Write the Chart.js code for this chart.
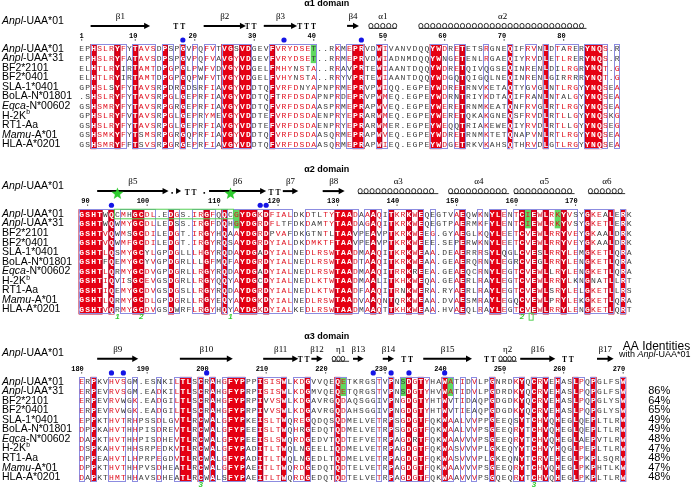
<!DOCTYPE html>
<html>
<head>
<meta charset="utf-8">
<script src="https://cdn.jsdelivr.net/npm/chart.js@4.4.0/dist/chart.umd.min.js"></script>
<style>
  html, body { margin: 0; padding: 0; background: #fff; }
  canvas { display: block; }
</style>
</head>
<body>
<canvas id="chart" width="696" height="489"></canvas>
<script>
const rowNames = ['Anpl-UAA*01', 'Anpl-UAA*31', 'BF2*2101', 'BF2*0401', 'SLA-1*0401', 'BoLA-N*01801',
  'Eqca-N*00602', 'H-2K^b', 'RT1-Aa', 'Mamu-A*01', 'HLA-A*0201'];
const rowItalic = [true, true, false, false, false, false, true, false, false, true, false];

const block1Seqs = [
  'EPHSLRYFYTAVSDPSPGVPQFVTVGSVDGEVFVRYDSET..RKMEPRVDWIVANVDQQYWDRETETSRGNEQIFRVNLDTARERYNQS.R',
  'EPHSLRYFATAVSDPSPGVPQFVAVGYVDGEVFVRYDSET..RRMEPRVDWIADNMDQQYWNGETENLRGAEQIYRVDLETLRERYNQS.R',
  'ELHTLRYIRTAMTDPGPGLPWFVDVGYVDGELFMHYNSTA..RRAVPRTEWIAANTDQQYWDRETQIVQGSEQINRENLDILRGRYNQT.G',
  'ELHTLRYIRTAMTDPGPGQPWFVTVGYVDGELFVHYNSTA..RRYVPRTEWIAANTDQQYWDGQTQIGQLNEQINRENLGIRRRRYNQT.G',
  'GPHSLSYFYTAVSRPDRGDSRFIAVGYVDDTQFVRFDNYAPNPRMEPRVPWIQQ.EGPEYWDRETRNVKETAQTYGVGLNTLRGYYNQSEA',
  '.SHSLRYFYTAVSRPGLGEPRFIAVGYVDDTQFTRFDSDAPNPRDEPRVPWMEQ.EGPEYWDRNTRIYKDTAQIFRANLNTALGYYNQSEA',
  'GSHSMRYFYTAVSRPGRGEPRFIAVGYVDDTQFVRFDSDAASPRMEPRAPWVEQ.EGPEYWERETRNMKEATQNFRVGLRTLRGYYNQSEA',
  'GPHSLRYFVTAVSRPGLGEPRYMEVGYVDDTEFVRFDSDAENPRYEPRARWMEQ.EGPEYWERETQKAKGNEQSFRVDLRTLLGYYNQSKG',
  'GSHSLRYFYTAVSRPGLGEPRFIAVGYVDDTEFVRFDSDAENPRYEPRARWMER.EGPEYWEQQTRIAKEWEQIYRVDLRTLLGYYNQSEG',
  'GSHSMKYFYTSMSRPGRGQPRFIAVGYVDDTQFVRFDSDAASQRMEPRAPWVEQ.EGPEYWDRETRNMKTETQNAPVNLRTLRGYYNQSEA',
  'GSHSMRYFFTSVSRPGRGEPRFIAVGYVDDTQFVRFDSDAASQRMEPRAPWIEQ.EGPEYWDGETRKVKAHSQTHRVDLGTLRGYYNQSEA'
];
const block2Seqs = [
  'GSHTWQCMHGCDL.EDGS.IRGFQQCGYDGKDFIALDKDTLTYTAADAAAQITKRKWEQEGTVAEQWKNYLENTCIEWLRKYVSYGKEALERK',
  'GSHTWQWMYGCDLLEDSS.IRGFDQHGYDGRDFLTFDKDAMTYTAADAGAQITKRKWEQEGTPAERMKFYLENTCIEWLRKYVSYGKETLERK',
  'GSHTVQWMSGCDILEDGT.IRGYHQAAYDGRDPVAFDKGTNTLTAAVPEAVPTKRKWEEG.GYAEGLKQYLEETCVEWLRRYVEYGKAALDRK',
  'GSHTVQWMFGCDILEDGT.IRGYRQSAYDGRDYIALDKDMKTFTAAVPEAVPTKRKWEEE.SEPERWKNYLEETCVEWLRRYVEYGKAALDRK',
  'GSHTLQSMYGCYLGPDGLLLHGYRQDAYDGADYIALNEDLRSWTAADMAAQITKRKWEAA.DEAERRRSYLQGLCVESLRRYLEMGKETLQRA',
  'GSHTFQEMYGCYVGPDGRLLLGFMQFAYDGRDYIALNEDLRSWTAADTAAQITKRKWEAA.GEAERQRNYLEGRCVEGLRRYLENGKETLQRA',
  'GSHTLQRMYGCDVGPDGRLLRGYRQDAYDGADYIALNEDLRSWTAADMAAQITRRKREEA.GEAEQCRNYLEGTCVEWLLRYLENGKETLQRA',
  'GSHTIQVISGCEVGSDGRLLRGYQQYAYDGCDYIALNEDLKTWTAADMAALITKHKWEQA.GEAERLRAYLEGTCVEWLRRYLKNGNATLLRT',
  'GSHTIQEMYGCDVGSDGSLLRGYRQDAYDGRDYIALNEDLKTWTAADFAAQITRNKWERA.RYAERLRAYLEGTCVEWLSRYLELGKETLLRS',
  'GSHTLQRMYGCDLGPDGRLLRGYEQYAYDGKDYIALNEDLRSWTAADVAAQNTQRKWEAA.DVAESMRAYLEGQCVEWLPRYLEKGKETLQRA',
  'GSHTVQRMYGCDVGSDWRFLRGYHQYAYDGKDYIALKEDLRSWTAADMAAQTTKHKWEAA.HVAEQLRAYLEGTCVEWLRRYLENGKETLQRT'
];
const block3Seqs = [
  'ERPKVHVSGM.ESNKILTLSCRAHGFYPPPISISWLKDGVVQEQETKRGSTVPNSDGTYHAWATIDVLPGNRDKYQCRVEHASLPQPGLFSW',
  'ERPEVRVSGM.EADKILTLSCRAHGFYPRPISISWLKDGMVQEQETQRGSTVPNSDGTYHVWATIDVLPGDRDKYQCRVEHASLPQPGLFSW',
  'ERPEVRVWGK.EADGILTLSCRAHGFYPRPIVVSWLKDGAVRGQDAQSGGIVPNGDGTYHTWVTIDAQPGDGDKYQCRVEHASLPQPGLYSW',
  'ERPEVRVWGK.EADGILTLSCRAHGFYPRPIVVSWLKDGAVRGQDAHSGGIVPNGDGTYHTWVTIEAQPGDGDKYQCRVEHASLPQPGLYSW',
  'EPPKTHVTRHPSSDLGVTLRCWALGFYPKEISLTWQREGQDQSQDMELVETRPSGDGTFQKWAALVVPPGEEQSYTCHVQHEGLQEPLTLRW',
  'DPPKAHVTHHPISDREVTLRCWALGFYPEEISLTWQHRGEDQTQDMELVETRPSGDGTFQKWAALVVPSGEEQRYTCHVQHEGLQEPLTLRW',
  'DAPKTHVTHHPISDHEVTLRCWALGFYPEEISLSWQRDGEDVTQDTEFVETRPAGDRTFQKWAAVVVPSGEEQRYTCHVQHEGLAEPVTLRW',
  'DSPKAHVTHHSRPEDKVTLRCWALGFYPADITLTWQLNGEELIQDMELVETRPAGDGTFQKWASVVVPLGKEQYYTCHVYHQGLPEPLTLRW',
  'DPPEAHVTLHPRPEGDVTLRCWALGFYPADITLTWQLNGEDLTQDMELVETRPAGDGTFQKWASVVVPLGKEQNYTCRVEHEGLPKPLSQRW',
  'DPPKTHVTHHPVSDHEATLRCWALGFYPAEITLTWQRDGEDQTQDTELVETRPAGDGTFQKWAAVVVPSGEEQRYTCHVQHEGLPKPHTLKW',
  'DAPKTHMTHHAVSDHEATLRCWALSFYPAEITLTWQRDGEDQTQDTELVETRPAGDGTFQKWAAVVVPSGQEQRYTCHVQHEGLPKPLTLRW'
];
const identities = ['', '86%', '64%', '65%', '49%', '49%', '48%', '47%', '48%', '47%', '48%'];

const block1Ticks = [[0, '1'], [9, '10'], [19, '20'], [29, '30'], [39, '40'], [51, '50'], [61, '60'], [71, '70'], [81, '80']];
const block2Ticks = [[1, '90'], [11, '100'], [23, '110'], [33, '120'], [43, '130'], [53, '140'], [63, '150'], [73, '160'], [83, '170']];
const block3Ticks = [[0, '180'], [11, '190'], [21, '200'], [31, '210'], [41, '220'], [51, '230'], [61, '240'], [71, '250'], [81, '260'], [91, '270']];

const block1Dots = [17, 34, 47];
const block2Dots = [5, 30, 31];
const block3Dots = [5, 7, 21, 49, 52, 55, 61];
const block1Green = [39];
const block2Green = [26, 75, 80];
const block3Green = [44, 54, 62];
const block2Stars = [6, 25];
const block2Bonds = [[6, '1'], [10, '2'], [25, '1'], [74, '2']];
const block3Bonds = [[20, '3'], [76, '3']];
const domainTitles = ['α1 domain', 'α2 domain', 'α3 domain'];

// secondary structure: [kind, from, to, label]
const block1SS = [
  ['strand', 1.5, 11.5, 'β1'], ['turn', 16.4, 0, 'TT'], ['strand', 20.5, 27.6, 'β2'], ['turn', 28.4, 0, 'TT'],
  ['strand', 30.6, 36.2, 'β3'], ['turn', 37.8, 0, 'TTT'], ['strand', 44.6, 46.6, 'β4'],
  ['helix', 48.6, 52.6, 'α1'], ['helix', 57, 84.5, 'α2']
];
const block2SS = [
  ['strand', 2.6, 14.6, 'β5'], ['dot', 15.2, 0, ''], ['head', 16.2, 0, ''], ['turn', 18.3, 0, 'TT'], ['dot', 20.6, 0, ''],
  ['strand', 21.4, 31, 'β6'], ['turn', 32.4, 0, 'TT'], ['strand', 33.8, 36.4, 'β7'], ['strand', 40.5, 44.2, 'β8'],
  ['helix', 46.8, 59.6, 'α3'], ['helix', 62, 71.5, 'α4'], ['helix', 73, 82.5, 'α5'], ['helix', 85.5, 91, 'α6']
];
const block3SS = [
  ['strand', 2.6, 9.5, 'β9'], ['strand', 16.5, 25.4, 'β10'], ['strand', 30.5, 36.4, 'β11'], ['turn', 37.3, 0, 'TT'],
  ['strand', 38.6, 40.5, 'β12'], ['eta', 42.4, 44.6, 'η1'], ['strand', 45.6, 47.4, 'β13'], ['strand', 50.6, 52.5, 'β14'],
  ['turn', 54.7, 0, 'TT'], ['strand', 57.4, 65.6, 'β15'], ['turn', 68.6, 0, 'TT'], ['eta', 70.4, 72.8, 'η2'],
  ['strand', 73.7, 79.6, 'β16'], ['turn', 81.7, 0, 'TT'], ['strand', 86.6, 89.4, 'β17']
];

// ---- layout (line units, column units) ----
const COL0 = 81.7, COLW = 5.95, ROW0 = 48.8, ROWH = 9.55;
const blockOffsets = [0, 17.3, 34.86];
const DOMAIN_Y = -4.7, TITLE_Y = -2.95, SS_LABEL_Y = -3.35, SS_Y = -2.4, NUM_Y = -1.35, DOT_Y = -0.92, BELOW_Y = 10.75;

const blocks = [
  { seqs: block1Seqs, ticks: block1Ticks, dots: block1Dots, green: block1Green, ss: block1SS, bonds: [], stars: [] },
  { seqs: block2Seqs, ticks: block2Ticks, dots: block2Dots, green: block2Green, ss: block2SS, bonds: block2Bonds, stars: block2Stars },
  { seqs: block3Seqs, ticks: block3Ticks, dots: block3Dots, green: block3Green, ss: block3SS, bonds: block3Bonds, stars: [] }
];

const groups = ['ILMV', 'FYW', 'KRH', 'DE', 'NQ', 'ST', 'AG', 'P', 'C'];
const RED = '#e60012', FRAME = '#8c8ce0', RED_TXT = '#e0101e', GREY_TXT = '#3a3a3a', GREEN = '#5fd85f';

function colClass(seqs, c) {
  const letters = seqs.map(s => s[c] || ' ');
  const first = letters[0];
  if (/[A-Z]/.test(first) && letters.every(l => l === first)) return { type: 'id' };
  let best = '', bestN = 0;
  groups.forEach(g => {
    const n = letters.filter(l => g.includes(l)).length;
    if (n > bestN) { bestN = n; best = g; }
  });
  if (bestN >= 0.7 * letters.length) return { type: 'sim', group: best };
  return { type: 'none' };
}

function drawName(ctx, name, x, y, italic, size) {
  ctx.textAlign = 'left';
  ctx.textBaseline = 'middle';
  ctx.fillStyle = '#000';
  let rest = name;
  if (italic) {
    const i = name.indexOf('-');
    const pre = name.slice(0, i);
    ctx.font = 'italic ' + size + 'px "Liberation Sans", Arial, sans-serif';
    ctx.fillText(pre, x, y);
    x += ctx.measureText(pre).width;
    rest = name.slice(i);
  }
  ctx.font = size + 'px "Liberation Sans", Arial, sans-serif';
  const sup = rest.indexOf('^');
  if (sup >= 0) {
    const base = rest.slice(0, sup);
    ctx.fillText(base, x, y);
    x += ctx.measureText(base).width;
    ctx.font = (size * 0.65) + 'px "Liberation Sans", Arial, sans-serif';
    ctx.fillText(rest.slice(sup + 1), x + 0.3, y - size * 0.3);
  } else {
    ctx.fillText(rest, x, y);
  }
}

const alignmentPlugin = {
  id: 'alignment',
  beforeDatasetsDraw(chart) {
    const ctx = chart.ctx;
    const xs = chart.scales.x, ys = chart.scales.y;
    const X = v => xs.getPixelForValue(v);
    const Y = v => ys.getPixelForValue(v);
    ctx.save();

    blocks.forEach((b, bi) => {
      const off = blockOffsets[bi];
      const n = b.seqs.length;
      const ncol = Math.max(...b.seqs.map(s => s.length));
      const info = [];
      for (let c = 0; c < ncol; c++) info.push(colClass(b.seqs, c));
      const top = Y(off - 0.5), bot = Y(off + n - 0.5);

      // identical columns: red boxes
      for (let c = 0; c < ncol; c++) {
        if (info[c].type !== 'id') continue;
        let e = c;
        while (e + 1 < ncol && info[e + 1].type === 'id') e++;
        const x0 = X(c - 0.5), x1 = X(e + 0.5);
        ctx.fillStyle = RED;
        ctx.fillRect(x0, top, x1 - x0, bot - top);
        ctx.strokeStyle = '#a3002e';
        ctx.lineWidth = 1;
        ctx.strokeRect(x0 + 0.5, top + 0.5, x1 - x0 - 1, bot - top - 1);
        c = e;
      }

      // green highlighted cells (first two rows)
      b.green.forEach(c => {
        ctx.fillStyle = GREEN;
        ctx.fillRect(X(c - 0.5), Y(off - 0.5), X(c + 0.5) - X(c - 0.5), Y(off + 1.5) - Y(off - 0.5));
      });

      // blue frames round similar runs
      ctx.strokeStyle = FRAME;
      ctx.lineWidth = 1;
      for (let c = 0; c < ncol; c++) {
        if (info[c].type === 'none') continue;
        let e = c;
        while (e + 1 < ncol && info[e + 1].type !== 'none') e++;
        ctx.strokeRect(Math.round(X(c - 0.5)) + 0.5, Math.round(top) + 0.5,
          Math.round(X(e + 0.5) - X(c - 0.5)) - 1, Math.round(bot - top) - 1);
        c = e;
      }

      // residues
      ctx.textAlign = 'center';
      ctx.textBaseline = 'middle';
      b.seqs.forEach((s, r) => {
        for (let c = 0; c < s.length; c++) {
          const ch = s[c];
          const inf = info[c];
          if (inf.type === 'id') {
            ctx.font = 'bold 8px "Liberation Mono", monospace';
            ctx.fillStyle = '#fff';
          } else if (inf.type === 'sim' && inf.group.includes(ch)) {
            ctx.font = '8px "Liberation Mono", monospace';
            ctx.fillStyle = RED_TXT;
          } else {
            ctx.font = '8px "Liberation Mono", monospace';
            ctx.fillStyle = GREY_TXT;
          }
          ctx.fillText(ch, X(c), Y(off + r) + 0.5);
        }
      });

      // row names
      rowNames.forEach((name, r) => drawName(ctx, name, 2, Y(off + r), rowItalic[r], 10.5));
      drawName(ctx, rowNames[0], 2, Y(off + TITLE_Y), rowItalic[0], 10.5);

      // domain title
      ctx.font = 'bold 9px "Liberation Sans", Arial, sans-serif';
      ctx.fillStyle = '#000';
      ctx.textAlign = 'center';
      ctx.fillText(domainTitles[bi], X(41.2), Y(off + DOMAIN_Y));

      // numbering
      ctx.font = 'bold 7px "Liberation Mono", monospace';
      ctx.textAlign = 'right';
      ctx.textBaseline = 'alphabetic';
      const dw = ctx.measureText('0').width;
      b.ticks.forEach(([c, lab]) => {
        ctx.fillStyle = '#000';
        ctx.fillText(lab, X(c) + dw / 2, Y(off + NUM_Y) + 2);
        ctx.beginPath();
        ctx.arc(X(c), Y(off + NUM_Y) + 4, 0.6, 0, Math.PI * 2);
        ctx.fill();
      });

      // secondary structure
      const sy = Y(off + SS_Y), ly = Y(off + SS_LABEL_Y);
      ctx.strokeStyle = '#000';
      ctx.fillStyle = '#000';
      b.ss.forEach(([kind, a, z, lab]) => {
        if (kind === 'strand') {
          const xa = X(a), xz = X(z);
          ctx.lineWidth = 2;
          ctx.beginPath();
          ctx.moveTo(xa, sy);
          ctx.lineTo(xz - 4, sy);
          ctx.stroke();
          ctx.beginPath();
          ctx.moveTo(xz, sy);
          ctx.lineTo(xz - 6, sy - 3.2);
          ctx.lineTo(xz - 6, sy + 3.2);
          ctx.closePath();
          ctx.fill();
        } else if (kind === 'helix' || kind === 'eta') {
          ctx.lineWidth = 0.8;
          const step = kind === 'helix' ? 1 : 0.75;
          for (let c = a; c <= z + 1e-6; c += step) {
            ctx.beginPath();
            ctx.ellipse(X(c), sy, kind === 'helix' ? 2.1 : 1.8, 2.5, 0, 0, Math.PI * 2);
            ctx.stroke();
          }
          ctx.beginPath();
          ctx.moveTo(X(a) - 2, sy + 2.5);
          ctx.lineTo(X(z) + 2, sy + 2.5);
          ctx.stroke();
        } else if (kind === 'turn') {
          ctx.font = 'bold 7.5px "Liberation Serif", serif';
          ctx.textAlign = 'center';
          ctx.textBaseline = 'middle';
          ctx.fillText(lab.split('').join(' '), X(a), sy + 1.5);
        } else if (kind === 'dot') {
          ctx.fillRect(X(a) - 0.8, sy + 1, 1.6, 1.6);
        } else if (kind === 'head') {
          ctx.beginPath();
          ctx.moveTo(X(a) + 3, sy);
          ctx.lineTo(X(a) - 2, sy - 3);
          ctx.lineTo(X(a) - 2, sy + 3);
          ctx.closePath();
          ctx.fill();
        }
        if (lab && kind !== 'turn') {
          ctx.font = '9px "Liberation Serif", serif';
          ctx.textAlign = 'center';
          ctx.textBaseline = 'middle';
          ctx.fillText(lab, (X(a) + X(z)) / 2, ly);
        }
      });

      // disulfide labels below the block
      ctx.font = 'italic bold 8px "Liberation Sans", Arial, sans-serif';
      ctx.fillStyle = '#33cc33';
      ctx.textAlign = 'center';
      ctx.textBaseline = 'middle';
      b.bonds.forEach(([c, lab]) => ctx.fillText(lab, X(c), Y(off + BELOW_Y)));
    });

    // green bond outline in block 2 and box next to last label
    const off2 = blockOffsets[1];
    ctx.strokeStyle = '#55d055';
    ctx.lineWidth = 1;
    ctx.strokeRect(X(5.5), Y(off2 - 0.5), X(25.5) - X(5.5), Y(off2 + 0.5) - Y(off2 - 0.5));
    ctx.strokeRect(X(75.2), Y(off2 + BELOW_Y) - 3.5, 4, 7);

    // identities column
    const off3 = blockOffsets[2];
    ctx.fillStyle = '#000';
    ctx.textBaseline = 'middle';
    ctx.textAlign = 'left';
    ctx.font = '11px "Liberation Sans", Arial, sans-serif';
    identities.forEach((v, r) => { if (v) ctx.fillText(v, X(95.2), Y(off3 + r)); });
    ctx.textAlign = 'center';
    ctx.font = '12px "Liberation Sans", Arial, sans-serif';
    ctx.fillText('AA Identities', X(96.6), Y(off3 - 3.7));
    ctx.font = '9px "Liberation Sans", Arial, sans-serif';
    const w1 = ctx.measureText('with ').width;
    ctx.font = 'italic 9px "Liberation Sans", Arial, sans-serif';
    const w2 = ctx.measureText('Anpl').width;
    ctx.font = '9px "Liberation Sans", Arial, sans-serif';
    const w3 = ctx.measureText('-UAA*01').width;
    let tx = X(96.3) - (w1 + w2 + w3) / 2;
    const ty = Y(off3 - 2.85);
    ctx.textAlign = 'left';
    ctx.fillText('with ', tx, ty); tx += w1;
    ctx.font = 'italic 9px "Liberation Sans", Arial, sans-serif';
    ctx.fillText('Anpl', tx, ty); tx += w2;
    ctx.font = '9px "Liberation Sans", Arial, sans-serif';
    ctx.fillText('-UAA*01', tx, ty);

    ctx.restore();
  }
};

// filled green star used as point style
const starImg = document.createElement('canvas');
starImg.width = 13; starImg.height = 13;
(function () {
  const g = starImg.getContext('2d');
  g.fillStyle = '#2ecc2e';
  g.beginPath();
  for (let i = 0; i < 10; i++) {
    const r = i % 2 === 0 ? 6.3 : 2.7;
    const a = -Math.PI / 2 + i * Math.PI / 5;
    g.lineTo(6.5 + r * Math.cos(a), 6.8 + r * Math.sin(a));
  }
  g.closePath();
  g.fill();
})();

const dotPoints = [];
blocks.forEach((b, bi) => b.dots.forEach(c => dotPoints.push({ x: c, y: blockOffsets[bi] + DOT_Y })));
const starPoints = block2Stars.map(c => ({ x: c, y: blockOffsets[1] - 2.15 }));

new Chart(document.getElementById('chart'), {
  type: 'scatter',
  data: {
    datasets: [
      { label: 'contacts', data: dotPoints, pointRadius: 2.6, pointBackgroundColor: '#1414e6', pointBorderWidth: 0 },
      { label: 'cysteines', data: starPoints, pointStyle: starImg, pointRadius: 6 }
    ]
  },
  options: {
    responsive: false,
    animation: false,
    devicePixelRatio: 1,
    layout: { padding: 0, autoPadding: false },
    plugins: { legend: { display: false }, tooltip: { enabled: false } },
    scales: {
      x: { type: 'linear', display: false, min: -COL0 / COLW, max: (696 - COL0) / COLW },
      y: { type: 'linear', display: false, reverse: true, min: -ROW0 / ROWH, max: (489 - ROW0) / ROWH }
    }
  },
  plugins: [alignmentPlugin]
});
</script>
</body>
</html>
